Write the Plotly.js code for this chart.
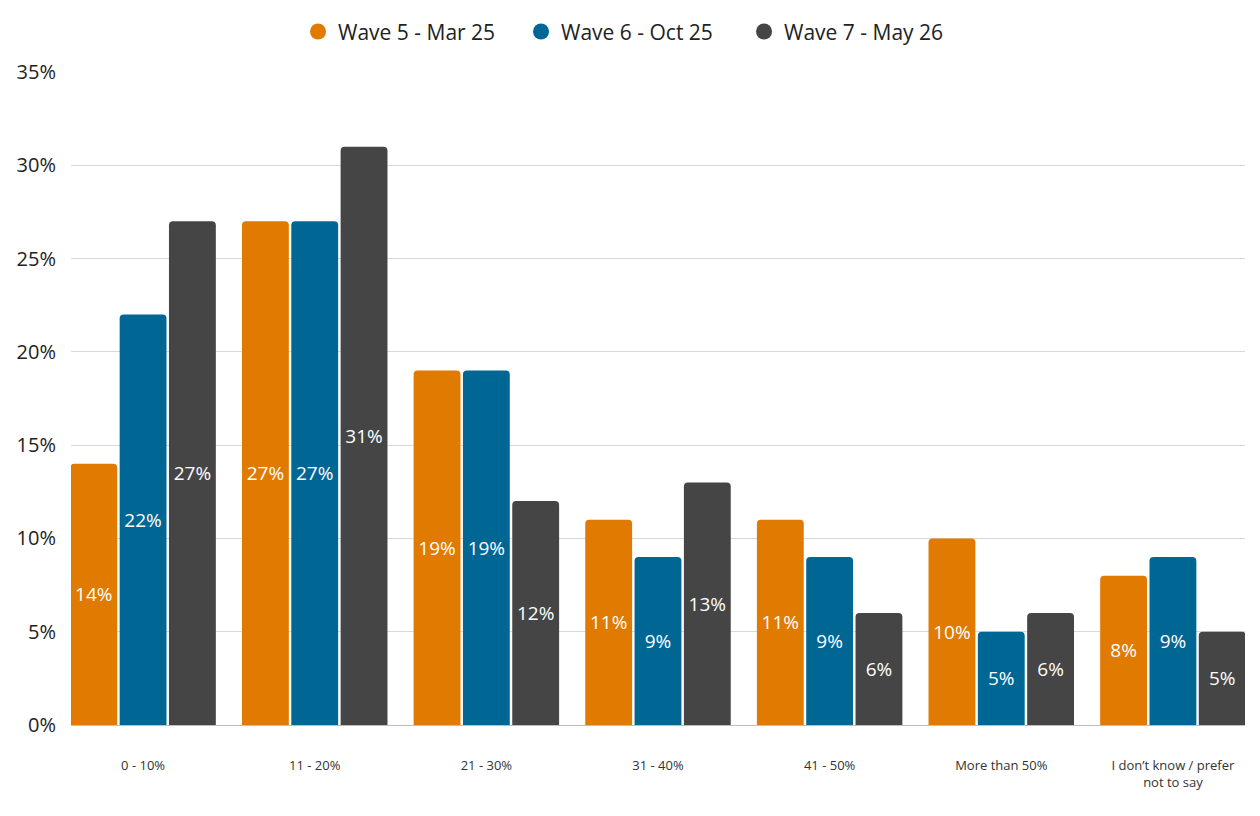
<!DOCTYPE html>
<html>
<head>
<meta charset="utf-8">
<script src="https://cdn.plot.ly/plotly-3.0.1.min.js"></script>
<style>html,body{margin:0;padding:0;background:#fff;}#chart{width:1260px;height:816px;}</style>
</head>
<body>
<div id="chart"></div>
<script>
const categories = ["0 - 10%", "11 - 20%", "21 - 30%", "31 - 40%", "41 - 50%", "More than 50%", "I don’t know / prefer<br>not to say"];
const seriesNames = ["Wave 5 - Mar 25", "Wave 6 - Oct 25", "Wave 7 - May 26"];
const wave5 = [14, 27, 19, 11, 11, 10, 8];
const wave6 = [22, 27, 19, 9, 9, 5, 9];
const wave7 = [27, 31, 12, 13, 6, 6, 5];
const colors = ["#E07A00", "#006795", "#454545"];
const yTicks = [0, 5, 10, 15, 20, 25, 30, 35];

const seriesValues = [wave5, wave6, wave7];
const traces = [];
seriesValues.forEach((vals, i) => {
  traces.push({
    type: "bar",
    name: seriesNames[i],
    x: categories,
    y: vals,
    text: vals.map(v => v + "%"),
    textposition: "inside",
    insidetextanchor: "middle",
    textangle: 0,
    textfont: {family: "Open Sans", size: 19, color: "#ffffff"},
    marker: {color: colors[i]},
    showlegend: false,
    hoverinfo: "skip"
  });
});
seriesValues.forEach((vals, i) => {
  traces.push({
    type: "scatter",
    mode: "markers",
    name: seriesNames[i],
    x: [null],
    y: [null],
    marker: {color: colors[i], size: 21, symbol: "circle"},
    showlegend: true
  });
});

const layout = {
  width: 1260,
  height: 816,
  margin: {l: 71, r: 15, t: 72, b: 91, autoexpand: false},
  paper_bgcolor: "#ffffff",
  plot_bgcolor: "#ffffff",
  barmode: "group",
  bargap: 0.138,
  bargroupgap: 0.05,
  barcornerradius: 4,
  font: {family: "Open Sans", color: "#222"},
  showlegend: true,
  legend: {
    orientation: "h",
    xref: "container",
    yref: "container",
    x: 0.502, xanchor: "center",
    y: 0.961, yanchor: "middle",
    font: {family: "Open Sans", size: 21, color: "#222"},
    itemwidth: 30,
    entrywidth: 178,
    traceorder: "normal"
  },
  xaxis: {
    type: "category",
    range: [-0.42, 6.42],
    showgrid: false,
    showline: false,
    zeroline: false,
    ticks: "",
    tickfont: {family: "Open Sans", size: 13, color: "#333"},
    ticklabelstandoff: 31
  },
  yaxis: {
    range: [0, 35],
    tickvals: yTicks,
    ticktext: yTicks.map(v => v + "%"),
    showgrid: true,
    gridcolor: "#d9d9d9",
    gridwidth: 1,
    zeroline: true,
    zerolinecolor: "#bdbdbd",
    zerolinewidth: 1,
    showline: false,
    ticks: "",
    tickfont: {family: "Open Sans", size: 20, color: "#222"},
    ticklabelstandoff: 14
  }
};

Plotly.newPlot("chart", traces, layout, {displayModeBar: false, staticPlot: true});
</script>
</body>
</html>
